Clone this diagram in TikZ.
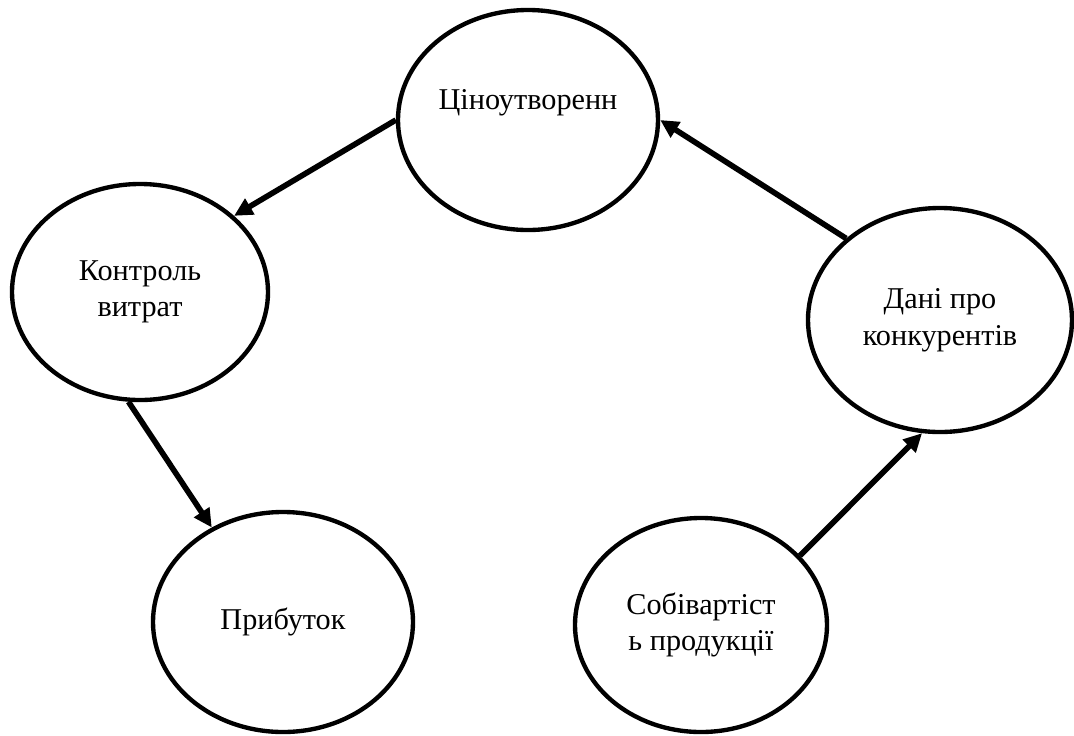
\documentclass[tikz,border=0pt]{standalone}
\usepackage{fontspec}
\setmainfont{Liberation Serif}
\usetikzlibrary{arrows.meta,shapes.geometric}

\begin{document}
\begin{tikzpicture}[x=0.25mm,y=-0.25mm,
    font=\fontsize{21.5pt}{26pt}\selectfont,
    bubble/.style={ellipse,draw,line width=3.1pt,inner sep=0pt,align=center},
    arr/.style={-{Triangle[length=4.6mm,width=4.4mm]},line width=4pt}]
  \useasboundingbox (0,0) rectangle (1074,735);
  \node[bubble,minimum width=65mm,minimum height=55mm,
    label={[yshift=4.3mm]center:Ціноутворенн}] (price) at (528,120) {};
  \node[bubble,minimum width=64mm,minimum height=54mm] (control) at (140,292) {Контроль\\витрат};
  \node[bubble,minimum width=65mm,minimum height=55mm] (profit) at (283,622) {Прибуток};
  \node[bubble,minimum width=63mm,minimum height=53.5mm] (cost) at (701,625) {Собівартіст\\ь продукції};
  \node[bubble,minimum width=66mm,minimum height=56mm] (rivals) at (940,320) {Дані про\\конкурентів};
  \draw[arr] (price.west) -- (control.39);
  \draw[arr] (control.264) -- (profit.127);
  \draw[arr] (cost.35) -- (rivals.261);
  \draw[arr] (rivals.139) -- (price.east);
\end{tikzpicture}
\end{document}
